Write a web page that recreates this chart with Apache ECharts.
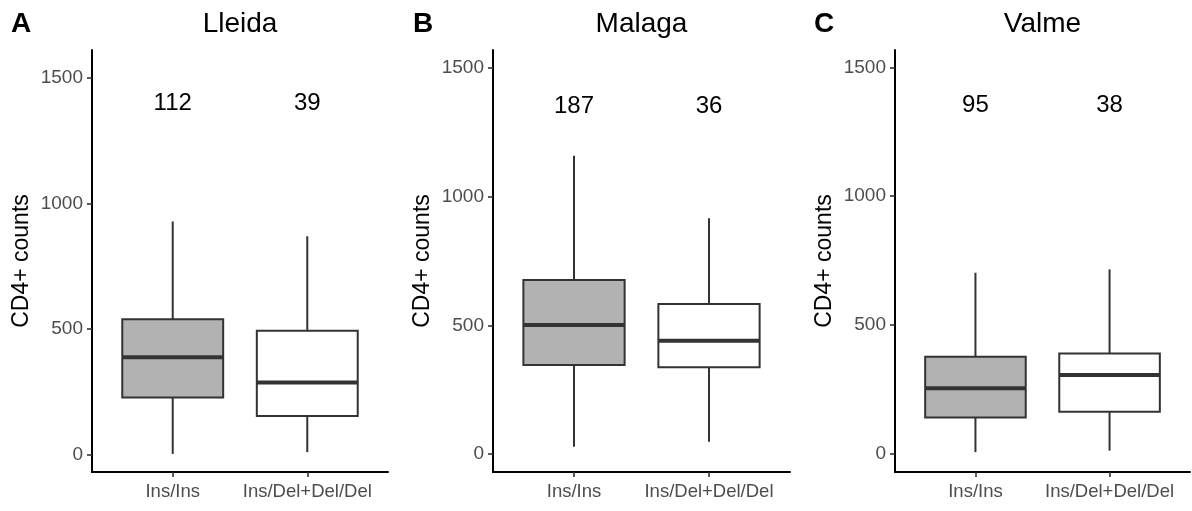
<!DOCTYPE html>
<html>
<head>
	<meta charset="utf-8">
	<title>CD4+ counts by genotype</title>
	<script src="https://cdn.jsdelivr.net/npm/echarts@6/dist/echarts.min.js"></script>
	<style type="text/css">
		html, body {
			margin: 0;
			padding: 0;
			background: #ffffff;
		}
		#chart {
			width: 1192px;
			height: 511px;
		}
	</style>
</head>
<body>
	<div id="chart"></div>
	<script type="text/javascript">
		// genotype groups (x positions 1 and 2)
		var categories = ['Ins/Ins', 'Ins/Del+Del/Del'];
		var categoryPos = [1, 2];
		var cohorts = ['Lleida', 'Malaga', 'Valme'];
		var panelLetters = ['A', 'B', 'C'];
		var yTicks = [0, 500, 1000, 1500];

		// number of patients per group
		var countsLleida = [112, 39];
		var countsMalaga = [187, 36];
		var countsValme = [95, 38];

		// [min, Q1, median, Q3, max] per group
		var boxesLleida = [[4, 228, 389, 540, 929], [11, 155, 288, 494, 870]];
		var boxesMalaga = [[28, 346, 501, 676, 1159], [48, 337, 440, 583, 916]];
		var boxesValme = [[7, 141, 255, 377, 703], [13, 164, 306, 390, 716]];

		var FONT = '"Liberation Sans", Arial, Helvetica, sans-serif';
		var BOX_WIDTH = 0.75;
		var fills = ['#b2b2b2', '#ffffff'];

		var panels = [
			{ boxes: boxesLleida, counts: countsLleida, left: 92, width: 296, yMin: -68, yMax: 1611, labelAt: 1400, letterX: 21 },
			{ boxes: boxesMalaga, counts: countsMalaga, left: 493, width: 297, yMin: -70, yMax: 1570, labelAt: 1352, letterX: 423 },
			{ boxes: boxesValme, counts: countsValme, left: 895, width: 295, yMin: -70, yMax: 1567, labelAt: 1352, letterX: 824 }
		];

		function renderBox(params, api) {
			var x = api.value(0);
			var lo = api.coord([x, api.value(1)]);
			var q1 = api.coord([x, api.value(2)]);
			var md = api.coord([x, api.value(3)]);
			var q3 = api.coord([x, api.value(4)]);
			var hi = api.coord([x, api.value(5)]);
			var half = api.size([BOX_WIDTH, 0])[0] / 2;
			var line = { stroke: '#333333', lineWidth: 2 };
			return {
				type: 'group',
				children: [
					{ type: 'line', shape: { x1: hi[0], y1: hi[1], x2: q3[0], y2: q3[1] }, style: line },
					{ type: 'line', shape: { x1: q1[0], y1: q1[1], x2: lo[0], y2: lo[1] }, style: line },
					{
						type: 'rect',
						shape: { x: q3[0] - half, y: q3[1], width: half * 2, height: q1[1] - q3[1] },
						style: { fill: fills[params.dataIndex], stroke: '#333333', lineWidth: 2 }
					},
					{
						type: 'line',
						shape: { x1: md[0] - half, y1: md[1], x2: md[0] + half, y2: md[1] },
						style: { stroke: '#333333', lineWidth: 4 }
					}
				]
			};
		}

		function renderCount(params, api) {
			var p = api.coord([api.value(0), api.value(1)]);
			return {
				type: 'text',
				style: {
					text: String(api.value(2)),
					x: p[0], y: p[1],
					align: 'center', verticalAlign: 'middle',
					font: '24px ' + FONT,
					fill: '#000000'
				}
			};
		}

		var option = { animation: false, grid: [], xAxis: [], yAxis: [], series: [], graphic: [] };

		panels.forEach(function (p, i) {
			option.grid.push({ left: p.left, top: 50, width: p.width, height: 422 });
			option.xAxis.push({
				type: 'value', gridIndex: i, min: 0.4, max: 2.6,
				splitLine: { show: false },
				axisLine: { show: true, onZero: false, lineStyle: { color: '#000000', width: 2 } },
				axisTick: { show: true, length: 5, customValues: categoryPos, lineStyle: { color: '#333333', width: 1.6 } },
				axisLabel: {
					customValues: categoryPos, margin: 10,
					color: '#4d4d4d', fontSize: 18.5, fontFamily: FONT,
					formatter: function (v) { return categories[Math.round(v) - 1]; }
				}
			});
			option.yAxis.push({
				type: 'value', gridIndex: i, min: p.yMin, max: p.yMax,
				name: 'CD4+ counts', nameLocation: 'middle', nameGap: 59, nameRotate: 90,
				nameTextStyle: { color: '#000000', fontSize: 23, fontFamily: FONT },
				splitLine: { show: false },
				axisLine: { show: true, onZero: false, lineStyle: { color: '#000000', width: 2 } },
				axisTick: { show: true, length: 5, customValues: yTicks, lineStyle: { color: '#333333', width: 1.6 } },
				axisLabel: {
					customValues: yTicks, margin: 9,
					color: '#4d4d4d', fontSize: 19, fontFamily: FONT,
					formatter: function (v) { return String(v); }
				}
			});
			var boxData = p.boxes.map(function (b, k) {
				return [categoryPos[k]].concat(b);
			});
			option.series.push({
				type: 'custom', xAxisIndex: i, yAxisIndex: i,
				renderItem: renderBox, data: boxData
			});
			var countData = p.counts.map(function (c, k) {
				return [categoryPos[k], p.labelAt, c];
			});
			option.series.push({
				type: 'custom', xAxisIndex: i, yAxisIndex: i,
				renderItem: renderCount, data: countData
			});
			option.graphic.push({
				type: 'text', x: p.left + p.width / 2, y: 24,
				style: { text: cohorts[i], align: 'center', verticalAlign: 'middle', font: '28px ' + FONT, fill: '#000000' }
			});
			option.graphic.push({
				type: 'text', x: p.letterX, y: 24,
				style: { text: panelLetters[i], align: 'center', verticalAlign: 'middle', font: 'bold 28px ' + FONT, fill: '#000000' }
			});
		});

		var myChart = echarts.init(document.getElementById('chart'));
		myChart.setOption(option);
	</script>
</body>
</html>
